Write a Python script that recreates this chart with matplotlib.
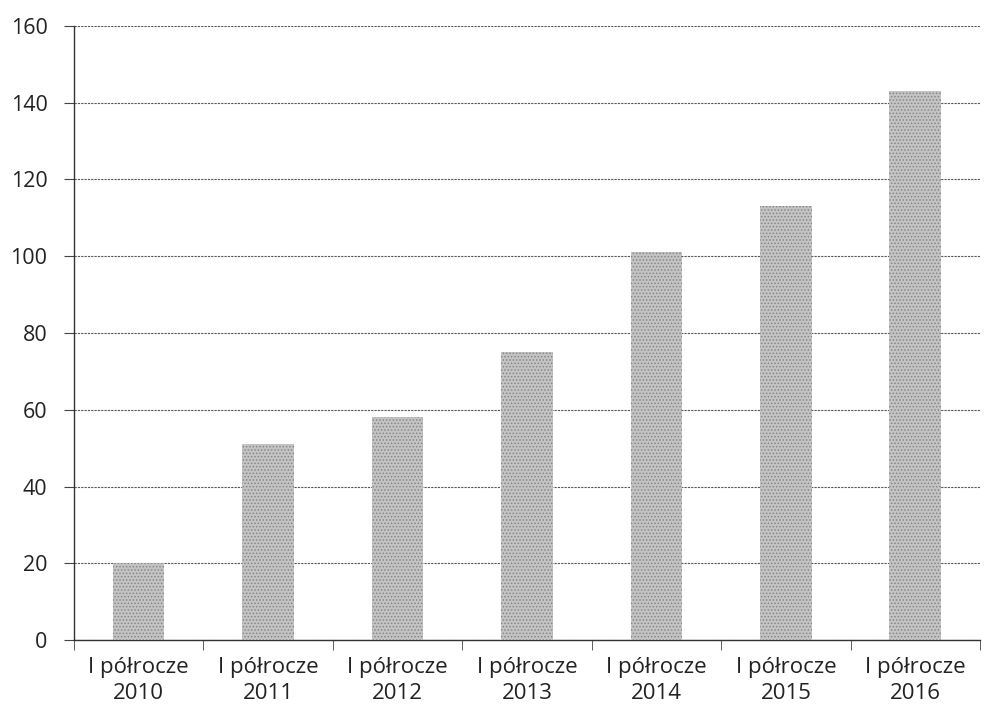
import numpy as np
import matplotlib.pyplot as plt

# values
categories = ['I półrocze\n2010', 'I półrocze\n2011', 'I półrocze\n2012', 'I półrocze\n2013',
              'I półrocze\n2014', 'I półrocze\n2015', 'I półrocze\n2016']
values = [20, 51, 58, 75, 101, 113, 143]
y_ticks = [0, 20, 40, 60, 80, 100, 120, 140, 160]

plt.rcParams['font.family'] = ['Open Sans', 'DejaVu Sans']
plt.rcParams['hatch.linewidth'] = 0.7

fig = plt.figure(figsize=(9.85, 7.16), dpi=100)
ax = fig.add_axes([0.075, 0.106, 0.92, 0.858])

x = np.arange(len(categories))
ax.bar(x, values, width=0.4, color='#c4c4c4', hatch='.....', edgecolor='#858585',
       linewidth=0, zorder=3)

ax.set_xlim(-0.5, len(categories) - 0.5)
ax.set_ylim(0, 160)
ax.set_yticks(y_ticks)
ax.grid(axis='y', color='#555555', linestyle=(0, (2, 1)), linewidth=0.8, zorder=0)

# category labels between boundary ticks
ax.set_xticks(x)
ax.set_xticklabels(categories, fontsize=16, color='#222222', linespacing=1.35)
ax.tick_params(axis='x', length=0, pad=12)
ax.set_xticks(np.arange(len(categories) + 1) - 0.5, minor=True)
ax.tick_params(axis='x', which='minor', length=7, color='#444444', direction='out')
ax.tick_params(axis='y', labelsize=15.5, length=7, pad=12, color='#444444', labelcolor='#222222')

for side in ['top', 'right']:
    ax.spines[side].set_visible(False)
for side in ['left', 'bottom']:
    ax.spines[side].set_color('#333333')
    ax.spines[side].set_linestyle((0, (3, 1)))
    ax.spines[side].set_linewidth(1.0)

fig.savefig('out.png', dpi=100)
